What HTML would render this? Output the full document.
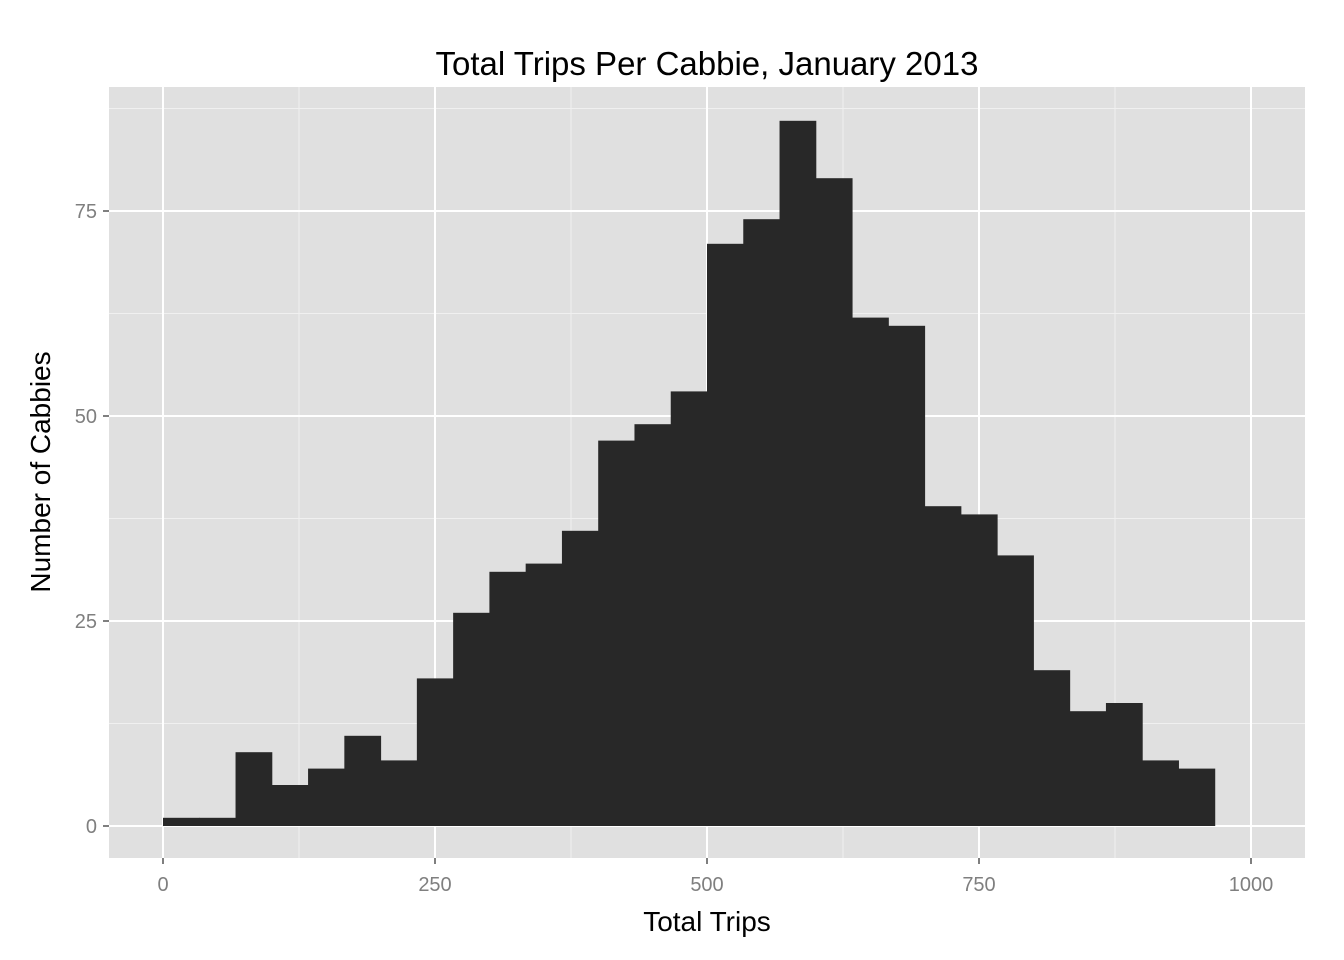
<!DOCTYPE html>
<html><head><meta charset="utf-8"><style>
body{margin:0;background:#fff;}
svg{display:block;font-family:"Liberation Sans",Arial,sans-serif;}
</style></head><body>
<svg id="chart" width="1344" height="960" viewBox="0 0 1344 960">
<rect x="0" y="0" width="1344" height="960" fill="#fff"/>
<rect x="109" y="87" width="1196" height="771" fill="#e0e0e0"/>
<g id="grid"></g>
<g id="bars"></g>
<g id="axes"></g>
<text x="707" y="75" font-size="33" text-anchor="middle" fill="#000">Total Trips Per Cabbie, January 2013</text>
<text x="707" y="931" font-size="28" text-anchor="middle" fill="#000">Total Trips</text>
<text transform="translate(50,472) rotate(-90)" font-size="28" text-anchor="middle" fill="#000">Number of Cabbies</text>
</svg>
<script>
const binStarts = [0,33.33,66.67,100,133.33,166.67,200,233.33,266.67,300,333.33,366.67,400,433.33,466.67,500,533.33,566.67,600,633.33,666.67,700,733.33,766.67,800,833.33,866.67,900,933.33];
const counts = [1,1,9,5,7,11,8,18,26,31,32,36,47,49,53,71,74,86,79,62,61,39,38,33,19,14,15,8,7];
const binWidth = 33.333;
const xTicks = [0,250,500,750,1000];
const yTicks = [0,25,50,75];
const xMinor = [125,375,625,875];
const yMinor = [12.5,37.5,62.5,87.5];
const NS="http://www.w3.org/2000/svg";
const X0=109,X1=1305,Y0=87,Y1=858;
function xs(v){return 163+v*1.088;}
function ys(v){return 826-v*8.2;}
function mk(t,a,p){const e=document.createElementNS(NS,t);for(const k in a)e.setAttribute(k,a[k]);p.appendChild(e);return e;}
const grid=document.getElementById('grid'),bars=document.getElementById('bars'),axes=document.getElementById('axes');
xMinor.forEach(v=>{const l=mk('line',{x1:xs(v),x2:xs(v),y1:Y0,y2:Y1,stroke:'#f0f0f0','stroke-width':1},grid);

});
yMinor.forEach(v=>{const l=mk('line',{x1:X0,x2:X1,y1:ys(v),y2:ys(v),stroke:'#f0f0f0','stroke-width':1},grid);

});
xTicks.forEach(v=>{const l=mk('line',{x1:xs(v),x2:xs(v),y1:Y0,y2:Y1,stroke:'#fff','stroke-width':2},grid);


const t=mk('line',{x1:xs(v),x2:xs(v),y1:Y1,y2:Y1+6,stroke:'#7f7f7f','stroke-width':2},axes);


const tx=mk('text',{x:xs(v),y:Y1+33,'font-size':20,'text-anchor':'middle',fill:'#7f7f7f'},axes);tx.textContent=v;

});
yTicks.forEach(v=>{const l=mk('line',{x1:X0,x2:X1,y1:ys(v),y2:ys(v),stroke:'#fff','stroke-width':2},grid);


const t=mk('line',{x1:X0-6,x2:X0,y1:ys(v),y2:ys(v),stroke:'#7f7f7f','stroke-width':2},axes);


const tx=mk('text',{x:X0-12,y:ys(v)+7,'font-size':20,'text-anchor':'end',fill:'#7f7f7f'},axes);tx.textContent=v;

});
binStarts.forEach((b,i)=>{const x=xs(b),w=xs(b+binWidth)-x;
const r=mk('rect',{x:x,y:ys(counts[i]),width:w+0.5,height:ys(0)-ys(counts[i]),fill:'#282828'},bars);

});
</script>
</body></html>
